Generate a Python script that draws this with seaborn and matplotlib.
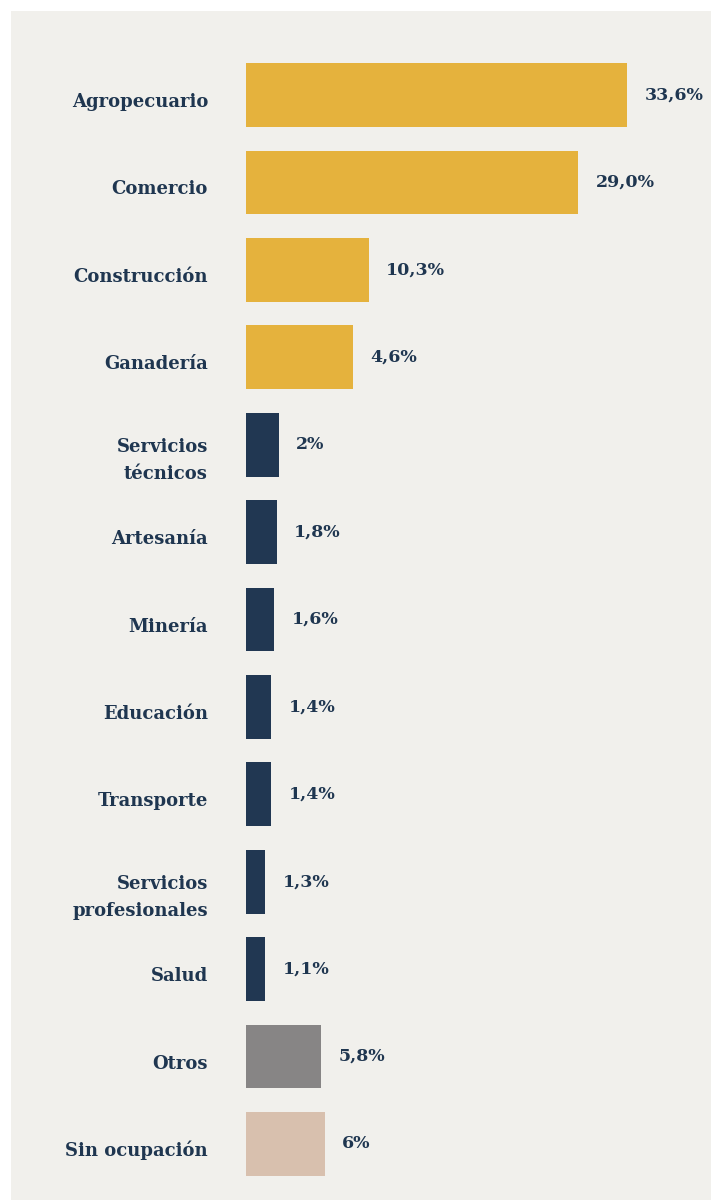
import matplotlib
matplotlib.use("Agg")
import matplotlib.pyplot as plt
import seaborn as sns
import pandas as pd
from matplotlib.patches import Rectangle

categories = ["Agropecuario", "Comercio", "Construcción", "Ganadería",
              "Servicios\ntécnicos", "Artesanía", "Minería", "Educación",
              "Transporte", "Servicios\nprofesionales", "Salud", "Otros",
              "Sin ocupación"]
# bar lengths as drawn in the picture (same units as the % labels)
bar_lengths = [33.5, 29.2, 10.8, 9.4, 2.9, 2.7, 2.5, 2.2, 2.2, 1.7, 1.7, 6.6, 6.9]
value_labels = ["33,6%", "29,0%", "10,3%", "4,6%", "2%", "1,8%", "1,6%",
                "1,4%", "1,4%", "1,3%", "1,1%", "5,8%", "6%"]
bar_colors = ["#e5b23d"] * 4 + ["#213752"] * 7 + ["#878585", "#d8c0ae"]

TEXT = "#1f3650"
BG = "#f1f0ec"

sns.set_theme(style="white")
plt.rcParams["font.family"] = ["DejaVu Serif", "DejaVu Sans"]

W, H = 711, 1200
fig = plt.figure(figsize=(W / 100, H / 100), dpi=100, facecolor="white")
fig.patches.append(Rectangle((11 / W, 0), 1 - 11 / W, 1 - 11 / H,
                             transform=fig.transFigure, facecolor=BG,
                             edgecolor="none", zorder=-10))

px_per_unit = 11.38
ax_left = 246 / W
top_px, bot_px = 51.3, 1187.7
ax = fig.add_axes([ax_left, 1 - bot_px / H, 1 - ax_left, (bot_px - top_px) / H])
ax.set_facecolor("none")
ax.set_zorder(5)

df = pd.DataFrame({"cat": categories, "val": bar_lengths})
sns.barplot(data=df, x="val", y="cat", hue="cat", palette=bar_colors,
            legend=False, orient="h", width=0.73, ax=ax, saturation=1,
            linewidth=0)

ax.set_xlim(0, (W - 246) / px_per_unit)
ax.set_ylim(len(categories) - 0.5, -0.5)

for cont, lab in zip(ax.containers, value_labels):
    ax.bar_label(cont, labels=[lab], padding=12.5, color=TEXT, fontsize=12.5,
                 fontweight="bold")

# category labels, right-aligned left of the bars
ax.set_yticks([])
for i, cat in enumerate(categories):
    nlines = cat.count("\n") + 1
    ax.annotate(cat, xy=(0, i), xytext=(-38, -12 - 22 * (nlines - 1)),
                textcoords="offset pixels",
                ha="right", va="baseline", multialignment="right",
                color=TEXT, fontsize=13, fontweight="bold", linespacing=1.62)

ax.set_xlabel("")
ax.set_ylabel("")
ax.set_xticks([])
for s in ax.spines.values():
    s.set_visible(False)

fig.savefig("out.png", dpi=100, facecolor="white")
